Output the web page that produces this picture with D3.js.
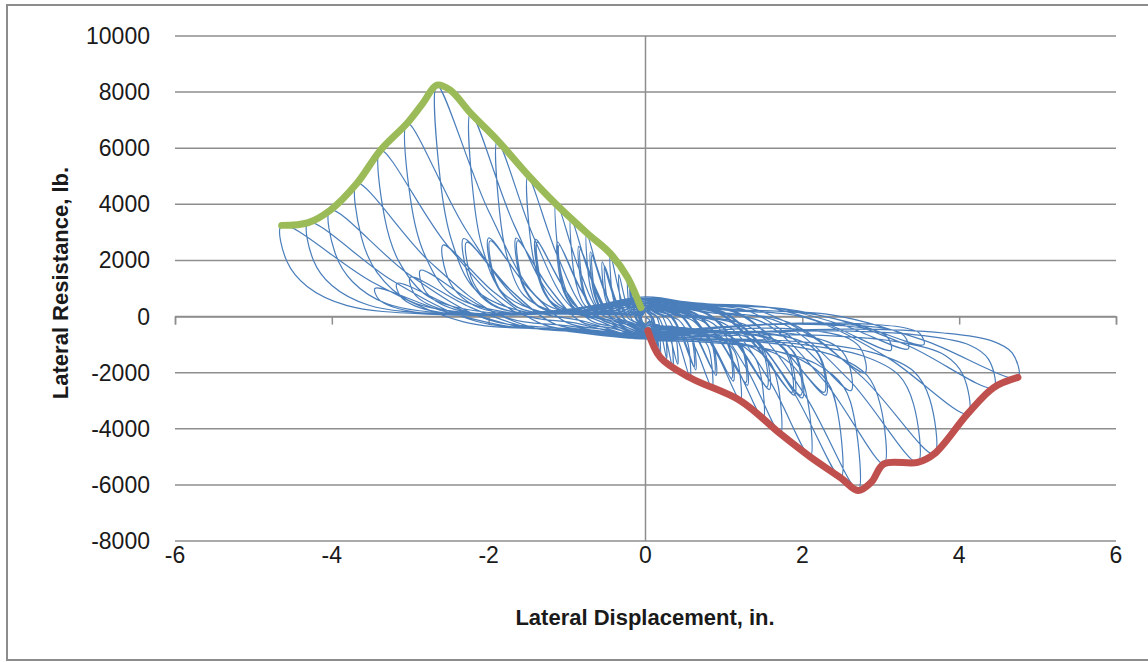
<!DOCTYPE html>
<html>
<head>
<meta charset="utf-8">
<script src="https://cdn.jsdelivr.net/npm/d3@7"></script>
<style>
  body { margin: 0; background: #fff; }
  text { font-family: "Liberation Sans", Arial, sans-serif; fill: #1a1a1a; }
</style>
</head>
<body>
<svg id="chart" width="1148" height="662"></svg>
<script>
var xTicks = [-6, -4, -2, 0, 2, 4, 6];
var yTicks = [-8000, -6000, -4000, -2000, 0, 2000, 4000, 6000, 8000, 10000];

// one row per load cycle:
// [+disp peak, +side force, force back at 0 in., -disp peak, -side force, force back at 0 in.]
var cycles = [
  [0.10, -800, -300, -0.08, 500, 200],
  [0.12, -900, -300, -0.10, 600, 200],
  [0.19, -1400, -350, -0.15, 1000, 250],
  [0.15, -1100, -300, -0.12, 800, 250],
  [0.35, -1850, -400, -0.23, 1400, 300],
  [0.27, -1500, -350, -0.20, 1150, 300],
  [0.57, -2180, -450, -0.45, 2250, 350],
  [0.41, -1700, -400, -0.34, 1500, 300],
  [0.85, -2550, -500, -0.75, 2950, 400],
  [0.64, -1900, -450, -0.55, 1950, 350],
  [0.62, -1800, -450, -0.52, 1800, 350],
  [1.21, -3000, -550, -0.95, 3500, 450],
  [0.90, -2100, -500, -0.70, 2300, 400],
  [0.88, -2000, -500, -0.68, 2200, 400],
  [1.50, -3650, -600, -1.14, 4100, 500],
  [1.12, -2300, -550, -0.85, 2500, 450],
  [1.10, -2200, -550, -0.83, 2400, 450],
  [1.72, -4180, -650, -1.50, 5000, 550],
  [1.30, -2450, -600, -1.12, 2650, 500],
  [1.28, -2350, -600, -1.10, 2550, 500],
  [2.10, -5000, -700, -1.89, 6250, 600],
  [1.58, -2600, -650, -1.40, 2750, 550],
  [1.55, -2500, -650, -1.38, 2650, 550],
  [2.49, -5750, -750, -2.23, 7250, 650],
  [1.90, -2800, -700, -1.65, 2800, 600],
  [1.87, -2700, -700, -1.63, 2700, 600],
  [2.71, -6200, -800, -2.66, 8250, 700],
  [2.00, -2900, -750, -2.00, 2800, 650],
  [1.98, -2800, -750, -1.98, 2700, 650],
  [3.04, -5250, -800, -3.04, 6900, 700],
  [2.30, -2800, -800, -2.32, 2780, 650],
  [2.28, -2700, -800, -2.28, 2650, 650],
  [3.47, -5200, -800, -3.38, 5930, 700],
  [2.62, -2640, -800, -2.58, 2550, 600],
  [3.68, -4900, -800, -3.68, 4750, 650],
  [2.80, -2000, -750, -2.87, 1650, 550],
  [4.11, -3460, -800, -4.02, 3790, 600],
  [3.13, -1200, -700, -3.00, 1400, 500],
  [4.44, -2530, -800, -4.30, 3350, 550],
  [3.35, -1150, -650, -3.17, 1180, 450],
  [4.75, -2170, -800, -4.64, 3250, 500],
  [3.55, -1000, -600, -3.45, 1000, 400]
];

// loop shape, normalised: [share of peak disp., share of peak force, share of force at 0 in.]
var reloadShape = [[0, 0, 1], [0.25, 0.08, 0.92], [0.5, 0.15, 0.85], [0.75, 0.5, 0.5]];
var unloadPosShape = [[0.985, 0.6, 0], [0.93, 0.4, 0], [0.8, 0.27, 0], [0.55, 0.17, 0.1], [0.25, 0.08, 0.5]];
var unloadNegShape = [[0.985, 0.6, 0], [0.93, 0.33, 0], [0.82, 0.12, 0], [0.6, 0.02, 0.05], [0.3, -0.02, 0.45]];

// backbone curves
var envelopeNeg = [
  [-4.64, 3250], [-4.3, 3350], [-4.02, 3790], [-3.68, 4750], [-3.38, 5930], [-3.04, 6890],
  [-2.84, 7600], [-2.66, 8250], [-2.49, 8070], [-2.23, 7250], [-1.89, 6290], [-1.5, 5050],
  [-1.14, 4000], [-0.74, 2960], [-0.45, 2250], [-0.23, 1400], [-0.06, 320]
];
var envelopePos = [
  [0.03, -500], [0.19, -1460], [0.57, -2180], [1.21, -3000], [1.72, -4180], [2.1, -5000],
  [2.49, -5750], [2.71, -6200], [2.88, -5900], [3.04, -5250], [3.47, -5200], [3.68, -4900],
  [4.11, -3460], [4.44, -2530], [4.75, -2170]
];

var svg = d3.select("#chart");
var x = d3.scaleLinear().domain([-6, 6]).range([175, 1116]);
var y = d3.scaleLinear().domain([-8000, 10000]).range([541, 36]);

// outer frame
svg.append("rect").attr("x", 7).attr("y", 5).attr("width", 1160).attr("height", 655)
  .attr("fill", "none").attr("stroke", "#8c8c8c").attr("stroke-width", 2);

// gridlines
svg.append("g").selectAll("line").data(yTicks).enter().append("line")
  .attr("x1", x(-6)).attr("x2", x(6))
  .attr("y1", function(d) { return y(d); }).attr("y2", function(d) { return y(d); })
  .attr("stroke", "#8e8e8e").attr("stroke-width", 1.5);

// vertical axis at 0
svg.append("line").attr("x1", x(0)).attr("x2", x(0)).attr("y1", y(10000)).attr("y2", y(-8000))
  .attr("stroke", "#8e8e8e").attr("stroke-width", 1.5);

// horizontal axis at 0 with tick marks
var xAxis = d3.axisBottom(x).tickValues(xTicks).tickSize(8).tickFormat("");
var gx = svg.append("g").attr("transform", "translate(0," + y(0) + ")").call(xAxis);
gx.select(".domain").attr("stroke", "#8e8e8e").attr("stroke-width", 1.5);
gx.selectAll(".tick line").attr("stroke", "#8e8e8e").attr("stroke-width", 1.5);

// tick labels
svg.append("g").selectAll("text").data(yTicks).enter().append("text")
  .attr("x", 150).attr("y", function(d) { return y(d); })
  .attr("dy", "0.35em").attr("text-anchor", "end").attr("font-size", 23)
  .text(function(d) { return d; });
svg.append("g").selectAll("text").data(xTicks).enter().append("text")
  .attr("x", function(d) { return x(d); }).attr("y", 563)
  .attr("text-anchor", "middle").attr("font-size", 23)
  .text(function(d) { return d; });

// axis titles
svg.append("text").attr("x", 645).attr("y", 625).attr("text-anchor", "middle")
  .attr("font-size", 22).attr("font-weight", "bold").text("Lateral Displacement,  in.");
svg.append("text").attr("transform", "translate(60,283) rotate(-90)").attr("dy", "0.35em")
  .attr("text-anchor", "middle").attr("font-size", 22).attr("font-weight", "bold")
  .text("Lateral Resistance,  lb.");

// build the hysteresis path from the cycle table
var pts = [];
var start = 0;
cycles.forEach(function(c) {
  var xp = c[0], fp = c[1], e0 = c[2], xn = c[3], fn = c[4], s0 = c[5];
  reloadShape.forEach(function(s) { pts.push([s[0] * xp, s[1] * fp + s[2] * start]); });
  pts.push([xp, fp]);
  unloadPosShape.forEach(function(s) { pts.push([s[0] * xp, s[1] * fp + s[2] * e0]); });
  reloadShape.forEach(function(s) { pts.push([s[0] * xn, s[1] * fn + s[2] * e0]); });
  pts.push([xn, fn]);
  unloadNegShape.forEach(function(s) { pts.push([s[0] * xn, s[1] * fn + s[2] * s0]); });
  start = s0;
});
pts.push([0, start]);

var line = d3.line()
  .x(function(d) { return x(d[0]); })
  .y(function(d) { return y(d[1]); })
  .curve(d3.curveCatmullRom.alpha(0.5));

svg.append("path").datum(pts).attr("d", line)
  .attr("fill", "none").attr("stroke", "#4a7ebb").attr("stroke-width", 1.2);

svg.append("path").datum(envelopeNeg).attr("d", line)
  .attr("fill", "none").attr("stroke", "#9bbb59").attr("stroke-width", 7)
  .attr("stroke-linecap", "round").attr("stroke-linejoin", "round");
svg.append("path").datum(envelopePos).attr("d", line)
  .attr("fill", "none").attr("stroke", "#c0504d").attr("stroke-width", 7)
  .attr("stroke-linecap", "round").attr("stroke-linejoin", "round");
</script>
</body>
</html>
